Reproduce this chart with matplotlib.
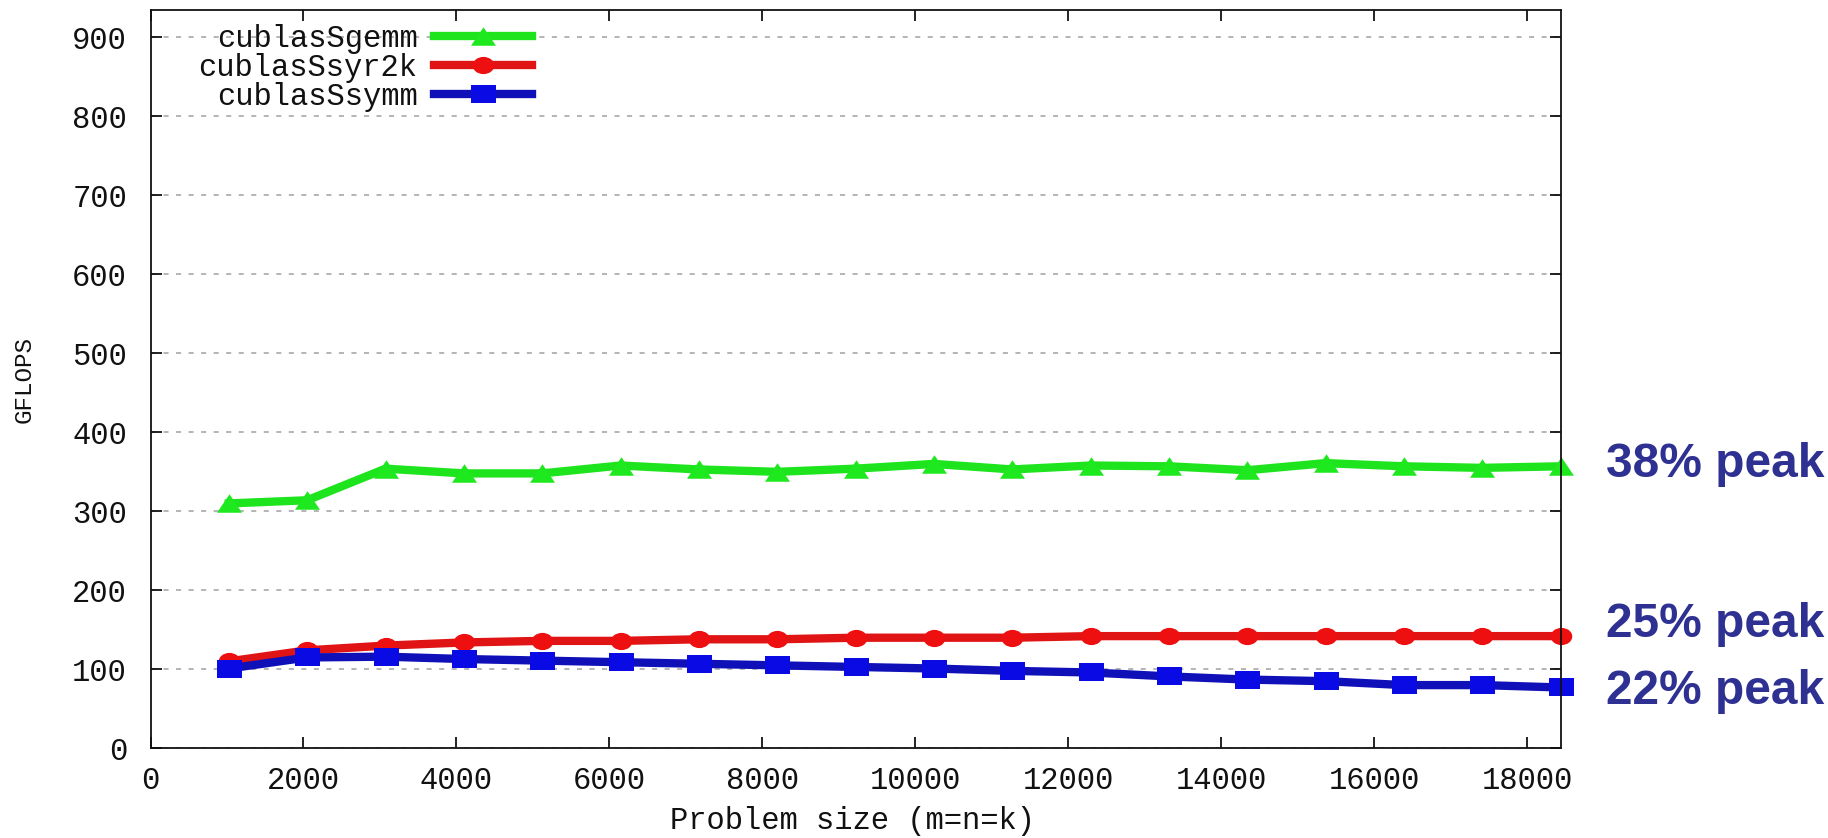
import matplotlib
matplotlib.use("Agg")
import matplotlib.pyplot as plt
from matplotlib.path import Path
from matplotlib.transforms import Affine2D

# ---- data ----
problem_size = [1024, 2048, 3072, 4096, 5120, 6144, 7168, 8192, 9216,
                10240, 11264, 12288, 13312, 14336, 15360, 16384, 17408, 18432]
sgemm = [310, 314, 354, 348, 348, 358, 353, 350, 354,
         360, 353, 358, 357, 352, 361, 357, 355, 357]
ssyr2k = [110, 124, 130, 134, 136, 136, 138, 138, 140,
          140, 140, 142, 142, 142, 142, 142, 142, 142]
ssymm = [101, 115, 116, 113, 111, 109, 107, 105, 103,
         101, 98, 96, 91, 87, 85, 80, 80, 77]
series_names = ["cublasSgemm", "cublasSsyr2k", "cublasSsymm"]
peak_labels = ["38% peak", "25% peak", "22% peak"]
x_ticks = [0, 2000, 4000, 6000, 8000, 10000, 12000, 14000, 16000, 18000]
y_ticks = [0, 100, 200, 300, 400, 500, 600, 700, 800, 900]

W, H = 1828, 838
MONO = "Liberation Mono"
FS = 22

# markers slightly wider than tall (the original image is stretched horizontally)
tri = Path([(0, 1), (-1.35, -1), (1.35, -1), (0, 1)],
           [Path.MOVETO, Path.LINETO, Path.LINETO, Path.CLOSEPOLY])
sq = Path([(-1.4, -1), (1.4, -1), (1.4, 1), (-1.4, 1), (-1.4, -1)],
          [Path.MOVETO, Path.LINETO, Path.LINETO, Path.LINETO, Path.CLOSEPOLY])
ell = Affine2D().scale(1.25, 1).transform_path(Path.unit_circle())

fig = plt.figure(figsize=(W / 100, H / 100), dpi=100)
left, right, top, bottom = 150.5, 1561, 10.5, 748.3
ax = fig.add_axes([left / W, 1 - bottom / H, (right - left) / W, (bottom - top) / H])

styles = [
    dict(color="#1ee41e", marker=tri, markersize=18, markerfacecolor="#1ee81e"),
    dict(color="#e01414", marker=ell, markersize=15.5, markerfacecolor="#ee1010"),
    dict(color="#1010b8", marker=sq, markersize=18, markerfacecolor="#0a0ae4"),
]
for ys, name, st in zip([sgemm, ssyr2k, ssymm], series_names, styles):
    ax.plot(problem_size, ys, label=name, linewidth=6, clip_on=False,
            markeredgewidth=0, **st)

ax.set_xlim(0, 18438)
ax.set_ylim(0, 934)
ax.set_xticks(x_ticks)
ax.set_yticks(y_ticks)
ax.grid(axis="y", color="#a0a0a0", linestyle=(0, (3.3, 4.9)), linewidth=1.1)
ax.set_axisbelow(True)
ax.tick_params(direction="in", top=True, right=True, length=8, width=1.3,
               labelsize=FS, colors="#111111")
ax.tick_params(axis="y", pad=17)
ax.tick_params(axis="x", pad=13)
for lab in ax.get_xticklabels() + ax.get_yticklabels():
    lab.set_family(MONO)
for sp in ax.spines.values():
    sp.set_linewidth(1.3)
    sp.set_color("#111111")

ax.set_xlabel("Problem size (m=n=k)", family=MONO, fontsize=FS, color="#111111")
ax.xaxis.set_label_coords((852 - left) / (right - left), -(829 - bottom) / (bottom - top))
ax.xaxis.label.set_va("baseline")
ax.set_ylabel("GFLOPS", family=MONO, fontsize=17.5, color="#111111")
ax.yaxis.set_label_coords((24 - left) / (right - left), 1 - (379 - top) / (bottom - top))
ax.yaxis.label.set_va("center")

leg = ax.legend(loc="upper right", bbox_to_anchor=(532 / W, 1 - 24 / H),
                bbox_transform=fig.transFigure, frameon=False, markerfirst=False,
                borderaxespad=0, borderpad=0, handlelength=3.2, handletextpad=0.55,
                labelspacing=-0.04, prop=dict(family=MONO, size=FS))
for t in leg.get_texts():
    t.set_color("#111111")

peak_y = [477, 637, 704]
for lab, y in zip(peak_labels, peak_y):
    fig.text(1606 / W, 1 - y / H, lab, ha="left", va="baseline", fontsize=34.5,
             fontweight="bold", color="#2e3192", family="Liberation Sans")

fig.savefig("out.png", dpi=100)
